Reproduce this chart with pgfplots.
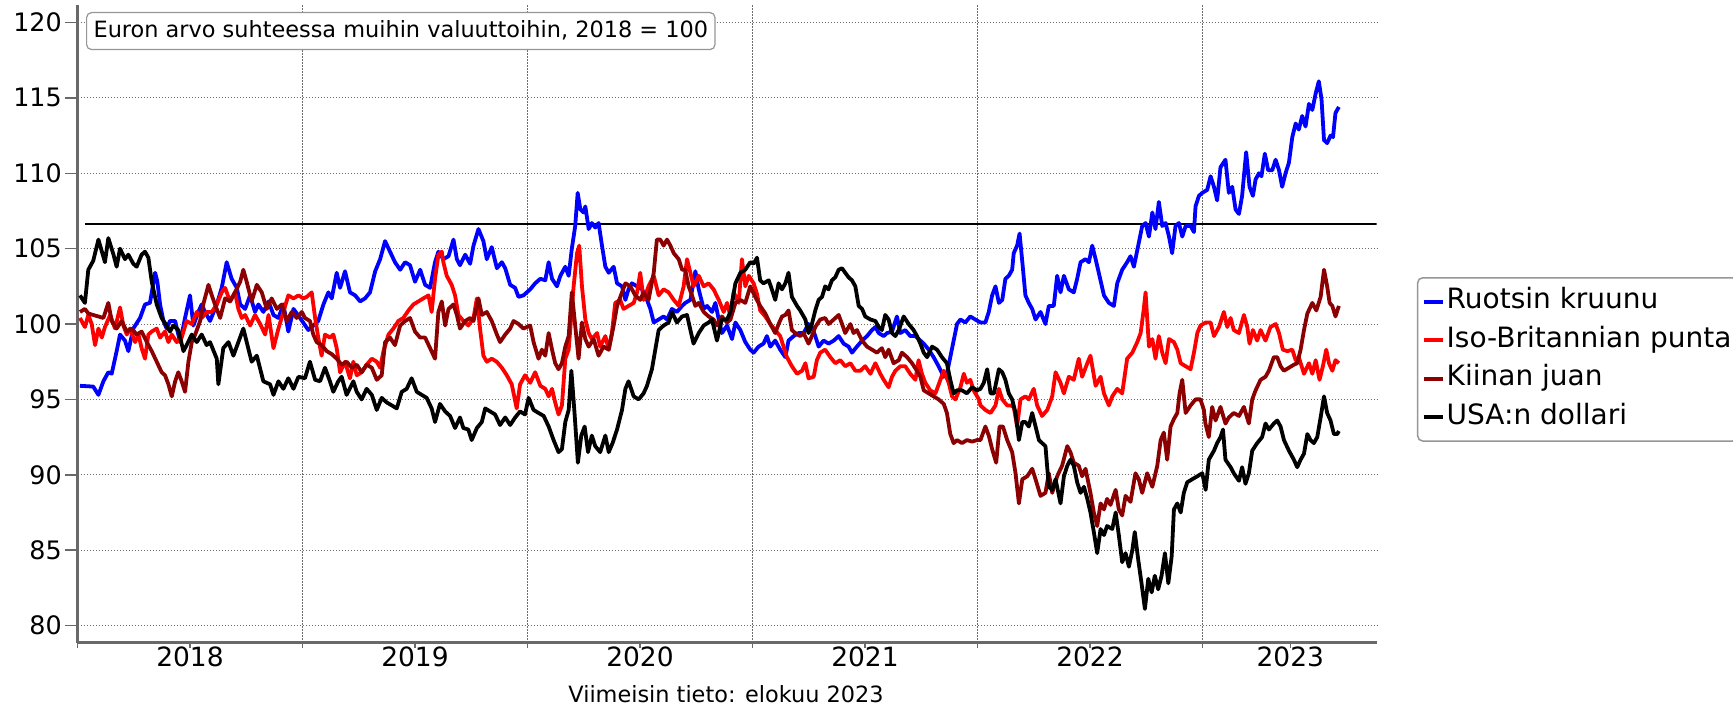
\documentclass[border=0pt]{standalone}
\usepackage{fontspec}
\setmainfont{DejaVu Sans}
\usepackage{pgfplots}
\pgfplotsset{compat=1.18}

\definecolor{kblue}{RGB}{0,0,255}
\definecolor{kred}{RGB}{255,0,0}
\definecolor{kdred}{RGB}{139,0,0}
\definecolor{axgray}{RGB}{105,105,105}
\definecolor{gridgray}{RGB}{110,110,110}
\definecolor{boxgray}{RGB}{150,150,150}

\begin{document}
\begin{tikzpicture}
\useasboundingbox (0pt,0pt) rectangle (1733pt,706pt);
\begin{axis}[
    at={(77.5pt,63pt)}, anchor=south west,
    scale only axis,
    width=1299.2pt, height=637.5pt,
    xmin=2018, xmax=2023.774,
    ymin=78.84, ymax=121.13,
    axis lines*=left,
    axis line style={-, draw=axgray, line width=3pt},
    tick align=outside,
    major tick length=13pt,
    tick style={draw=axgray, line width=1.5pt},
    xtick={2018,2019,2020,2021,2022,2023},
    xticklabels={,,,,,},
    xtick style={/pgfplots/major tick length=5pt},
    extra x ticks={2018.5,2019.5,2020.5,2021.5,2022.5,2023.39},
    extra x tick labels={2018,2019,2020,2021,2022,2023},
    extra x tick style={grid=none, major tick length=0pt},
    ytick={80,85,...,120},
    grid=major,
    major grid style={draw=gridgray, line width=1pt, dash pattern=on 1.5pt off 1.5pt},
    /pgf/number format/assume math mode=true,
    yticklabel style={font=\fontsize{25.4}{25.4}\selectfont, inner xsep=2.5pt},
    xticklabel style={font=\fontsize{26.5}{26.5}\selectfont},
    legend style={at={(1.031,0.574)}, anchor=north west,
        draw=boxgray, line width=1.5pt, rounded corners=5pt,
        font=\fontsize{28}{33}\selectfont,
        inner xsep=4pt, inner ysep=8.7pt, row sep=8.6pt,
        nodes={inner sep=2pt, text height=20pt, text depth=6pt}},
    legend cell align=left,
    legend image code/.code={\draw[#1, line width=4pt] (0pt,0pt) -- (19pt,0pt);},
]

\addplot[black, line width=2.5pt, forget plot] coordinates {(2018.033,106.63) (2023.774,106.63)};

% Ruotsin kruunu
\addplot[kblue, line width=3.8pt, line join=round] coordinates {
(2018.011,95.9) (2018.070,95.85) (2018.093,95.3) (2018.115,96.2) (2018.137,96.8) (2018.152,96.7)
(2018.174,98.2) (2018.189,99.3) (2018.211,98.9) (2018.226,98.2) (2018.248,99.7) (2018.278,100.4)
(2018.300,101.3) (2018.322,101.4) (2018.345,103.4) (2018.355,102.8) (2018.367,101.3) (2018.382,100.2)
(2018.396,99.7) (2018.411,100.2) (2018.434,100.2) (2018.456,98.8) (2018.478,100.4) (2018.500,101.9)
(2018.515,99.9) (2018.537,100.8) (2018.552,101.3) (2018.567,100.8) (2018.589,100.2) (2018.619,101.3)
(2018.641,102.4) (2018.663,104.1) (2018.685,103.0) (2018.708,102.4) (2018.723,101.3) (2018.745,101.0)
(2018.767,101.9) (2018.789,100.8) (2018.804,101.3) (2018.826,100.8) (2018.849,101.5) (2018.871,100.6)
(2018.893,100.4) (2018.915,101.3) (2018.937,99.5) (2018.960,101.0) (2018.989,100.4)
(2019.026,99.6) (2019.048,99.9) (2019.070,100.2) (2019.093,101.3) (2019.115,102.1) (2019.130,101.7)
(2019.152,103.4) (2019.167,102.4) (2019.189,103.5) (2019.211,102.1) (2019.234,101.9) (2019.256,101.5)
(2019.278,101.7) (2019.300,102.1) (2019.323,103.5) (2019.345,104.3) (2019.367,105.5) (2019.389,104.8)
(2019.411,104.1) (2019.434,103.6) (2019.456,104.1) (2019.478,103.9) (2019.500,102.8) (2019.523,103.6)
(2019.545,102.6) (2019.567,102.4) (2019.589,104.1) (2019.604,104.8) (2019.626,104.3) (2019.649,104.5)
(2019.671,105.6) (2019.686,104.3) (2019.700,103.9) (2019.723,104.6) (2019.745,104.0) (2019.760,105.2)
(2019.782,106.3) (2019.804,105.5) (2019.819,104.3) (2019.841,105.1) (2019.864,103.7) (2019.886,104.1)
(2019.901,103.7) (2019.923,102.6) (2019.945,102.4) (2019.960,101.8) (2019.982,101.9)
(2020.012,102.3) (2020.034,102.7) (2020.057,103.0) (2020.079,102.9) (2020.094,104.1) (2020.109,103.0)
(2020.131,102.5) (2020.146,103.2) (2020.168,103.8) (2020.183,103.2) (2020.197,105.0) (2020.212,106.5)
(2020.223,108.7) (2020.235,107.6) (2020.249,107.4) (2020.257,107.8) (2020.272,106.3) (2020.286,106.7)
(2020.301,106.4) (2020.316,106.7) (2020.331,105.2) (2020.346,103.8) (2020.361,103.4) (2020.383,103.8)
(2020.398,102.7) (2020.420,102.5) (2020.435,101.6) (2020.449,102.3) (2020.464,102.7) (2020.487,102.5)
(2020.509,102.3) (2020.531,101.6) (2020.546,101.0) (2020.561,100.1) (2020.583,100.3) (2020.605,100.5)
(2020.620,100.3) (2020.642,101.0) (2020.664,100.8) (2020.687,101.2) (2020.701,101.4) (2020.724,101.6)
(2020.746,103.5) (2020.761,102.3) (2020.783,101.0) (2020.798,101.2) (2020.820,100.8) (2020.835,101.4)
(2020.850,100.3) (2020.864,99.4) (2020.887,99.9) (2020.909,99.0) (2020.924,100.1) (2020.946,99.6)
(2020.968,98.8) (2020.990,98.3)
(2021.005,98.1) (2021.027,98.5) (2021.049,98.7) (2021.064,99.2) (2021.079,98.5) (2021.101,98.9)
(2021.123,98.3) (2021.146,97.8) (2021.160,98.9) (2021.183,99.2) (2021.205,99.4) (2021.227,99.4)
(2021.249,100.0) (2021.264,99.8) (2021.279,99.2) (2021.294,98.5) (2021.316,98.9) (2021.338,98.7)
(2021.361,98.9) (2021.383,99.2) (2021.405,98.7) (2021.427,98.5) (2021.442,98.1) (2021.464,98.5)
(2021.487,98.9) (2021.509,99.2) (2021.531,99.6) (2021.546,99.8) (2021.561,99.4) (2021.583,99.2)
(2021.598,99.4) (2021.620,99.5) (2021.642,100.5) (2021.657,99.4) (2021.679,99.6) (2021.701,99.2)
(2021.724,99.2) (2021.746,98.9) (2021.761,98.7) (2021.783,98.3) (2021.805,97.8) (2021.827,97.2)
(2021.850,96.5) (2021.864,96.7) (2021.879,97.8) (2021.894,98.9) (2021.909,100.0) (2021.924,100.3)
(2021.946,100.1) (2021.968,100.5) (2021.990,100.3)
(2022.013,100.1) (2022.035,100.1) (2022.050,100.8) (2022.065,101.9) (2022.080,102.5) (2022.095,101.4)
(2022.110,101.6) (2022.124,103.0) (2022.139,103.2) (2022.154,103.6) (2022.161,104.7) (2022.176,105.2)
(2022.187,106.0) (2022.198,104.3) (2022.213,101.9) (2022.228,101.4) (2022.243,101.0) (2022.258,100.3)
(2022.280,100.8) (2022.302,100.0) (2022.317,101.2) (2022.339,101.2) (2022.354,103.2) (2022.369,102.1)
(2022.384,103.2) (2022.406,102.3) (2022.428,102.1) (2022.443,103.0) (2022.458,104.1) (2022.480,104.3)
(2022.495,104.1) (2022.510,105.2) (2022.525,104.3) (2022.539,103.4) (2022.562,101.9) (2022.584,101.4)
(2022.606,101.2) (2022.621,102.7) (2022.643,103.6) (2022.665,104.1) (2022.680,104.5) (2022.695,103.8)
(2022.717,105.4) (2022.732,106.5) (2022.747,106.7) (2022.762,105.8) (2022.777,107.4) (2022.791,106.3)
(2022.806,108.1) (2022.821,106.5) (2022.836,106.7) (2022.851,105.8) (2022.865,104.7) (2022.880,106.5)
(2022.895,106.7) (2022.910,105.8) (2022.925,106.5) (2022.947,106.5) (2022.962,106.1) (2022.969,107.8)
(2022.984,108.5) (2022.999,108.7)
(2023.021,108.9) (2023.036,109.8) (2023.051,109.1) (2023.065,108.2) (2023.080,110.4) (2023.102,110.9)
(2023.117,108.7) (2023.132,109.1) (2023.147,107.6) (2023.162,107.3) (2023.176,108.5) (2023.194,111.4)
(2023.209,109.1) (2023.224,108.5) (2023.236,109.6) (2023.251,110.0) (2023.262,109.8) (2023.277,111.3)
(2023.292,110.2) (2023.310,110.2) (2023.325,110.9) (2023.340,110.2) (2023.354,109.1) (2023.369,110.0)
(2023.384,110.7) (2023.399,112.4) (2023.414,113.3) (2023.428,112.9) (2023.443,113.8) (2023.458,113.1)
(2023.473,114.6) (2023.488,114.2) (2023.503,115.3) (2023.517,116.1) (2023.529,114.9) (2023.540,112.2)
(2023.554,112.0) (2023.569,112.5) (2023.580,112.4) (2023.591,114.0) (2023.606,114.4)
};
\addlegendentry{Ruotsin kruunu}

% Iso-Britannian punta
\addplot[kred, line width=3.8pt, line join=round] coordinates {
(2018.011,100.4) (2018.033,99.8) (2018.048,100.6) (2018.063,100.0) (2018.078,98.6) (2018.093,99.7)
(2018.108,99.1) (2018.122,99.8) (2018.145,100.6) (2018.167,99.7) (2018.189,101.1) (2018.204,99.9)
(2018.219,99.3) (2018.233,99.7) (2018.256,98.8) (2018.271,99.3) (2018.285,98.4) (2018.300,97.7)
(2018.315,99.3) (2018.330,99.5) (2018.352,99.7) (2018.367,99.1) (2018.389,99.5) (2018.404,98.8)
(2018.419,99.3) (2018.441,98.8) (2018.463,99.1) (2018.485,100.2) (2018.508,100.0) (2018.530,100.8)
(2018.552,100.4) (2018.574,100.8) (2018.597,100.8) (2018.619,101.3) (2018.641,102.1) (2018.656,102.4)
(2018.678,101.5) (2018.700,102.1) (2018.715,101.0) (2018.730,100.4) (2018.745,100.6) (2018.767,99.9)
(2018.789,100.6) (2018.812,100.0) (2018.834,99.3) (2018.849,100.6) (2018.871,98.4) (2018.893,99.7)
(2018.915,100.8) (2018.937,101.9) (2018.960,101.7) (2018.982,101.9) (2019.004,101.7)
(2019.019,101.8) (2019.041,102.1) (2019.056,100.4) (2019.070,99.1) (2019.085,97.9) (2019.100,99.3)
(2019.122,99.1) (2019.137,99.3) (2019.152,98.4) (2019.167,96.8) (2019.189,97.5) (2019.211,96.4)
(2019.226,97.5) (2019.241,96.6) (2019.263,96.8) (2019.285,97.3) (2019.308,97.7) (2019.330,97.5)
(2019.345,97.1) (2019.360,98.2) (2019.382,99.3) (2019.404,99.7) (2019.426,100.2) (2019.448,100.4)
(2019.471,100.9) (2019.493,101.3) (2019.515,101.5) (2019.537,101.7) (2019.560,101.9) (2019.574,100.8)
(2019.589,103.0) (2019.604,104.6) (2019.619,104.8) (2019.626,104.1) (2019.641,103.2) (2019.663,102.6)
(2019.678,101.9) (2019.693,100.6) (2019.715,100.2) (2019.737,99.9) (2019.760,100.4) (2019.775,101.7)
(2019.789,99.7) (2019.804,97.9) (2019.819,97.5) (2019.841,97.7) (2019.863,97.5) (2019.886,97.1)
(2019.908,96.6) (2019.930,96.0) (2019.952,94.4) (2019.967,96.0) (2019.989,96.6)
(2020.012,96.1) (2020.034,96.8) (2020.057,95.9) (2020.079,95.7) (2020.094,95.2) (2020.109,95.7)
(2020.123,94.8) (2020.138,94.0) (2020.153,94.6) (2020.168,97.7) (2020.183,98.3) (2020.205,102.5)
(2020.220,104.7) (2020.230,105.2) (2020.242,102.5) (2020.257,100.3) (2020.272,99.4) (2020.286,99.0)
(2020.309,99.4) (2020.323,98.5) (2020.346,99.2) (2020.361,98.3) (2020.375,99.4) (2020.390,101.4)
(2020.412,101.6) (2020.427,101.0) (2020.449,101.2) (2020.472,101.4) (2020.487,102.1) (2020.501,103.4)
(2020.516,101.6) (2020.538,102.5) (2020.561,103.2) (2020.583,101.9) (2020.605,102.3) (2020.627,102.1)
(2020.650,101.6) (2020.672,101.2) (2020.694,102.5) (2020.709,104.3) (2020.724,103.4) (2020.738,102.5)
(2020.761,103.2) (2020.783,102.5) (2020.805,102.7) (2020.827,102.3) (2020.850,101.6) (2020.872,100.8)
(2020.887,101.4) (2020.902,100.5) (2020.916,102.1) (2020.939,101.4) (2020.953,104.3) (2020.968,102.5)
(2020.983,103.2)
(2021.005,102.7) (2021.020,102.0) (2021.034,100.9) (2021.057,100.5) (2021.079,100.0) (2021.101,99.6)
(2021.123,99.2) (2021.138,98.5) (2021.153,97.8) (2021.175,97.2) (2021.198,96.7) (2021.220,96.9)
(2021.235,97.4) (2021.249,96.4) (2021.272,96.5) (2021.286,97.6) (2021.301,98.1) (2021.323,98.3)
(2021.346,97.8) (2021.368,97.4) (2021.390,97.6) (2021.412,97.2) (2021.435,97.4) (2021.457,96.9)
(2021.479,96.9) (2021.501,97.2) (2021.524,96.7) (2021.546,97.4) (2021.568,96.7) (2021.583,96.3)
(2021.605,95.8) (2021.620,96.5) (2021.635,96.9) (2021.657,97.2) (2021.679,97.2) (2021.701,96.7)
(2021.724,96.3) (2021.738,97.6) (2021.753,96.7) (2021.768,96.1) (2021.790,95.6) (2021.813,95.4)
(2021.835,96.3) (2021.850,96.9) (2021.872,96.1) (2021.887,95.2) (2021.902,95.0) (2021.924,95.8)
(2021.939,96.7) (2021.953,96.1) (2021.968,96.3) (2021.983,95.6)
(2022.006,95.0) (2022.013,94.6) (2022.035,94.3) (2022.058,94.1) (2022.080,94.6) (2022.095,95.7)
(2022.110,95.0) (2022.132,94.6) (2022.147,94.6) (2022.161,94.5) (2022.176,93.2) (2022.191,95.0)
(2022.213,95.2) (2022.228,95.0) (2022.250,95.7) (2022.265,94.6) (2022.287,93.9) (2022.310,94.3)
(2022.332,95.2) (2022.347,96.8) (2022.369,96.1) (2022.384,95.4) (2022.406,96.5) (2022.428,96.3)
(2022.450,97.7) (2022.465,96.5) (2022.488,97.4) (2022.502,97.9) (2022.525,95.9) (2022.547,96.5)
(2022.562,95.4) (2022.584,94.6) (2022.599,95.2) (2022.621,95.7) (2022.643,95.4) (2022.665,97.7)
(2022.688,98.1) (2022.710,98.8) (2022.725,99.4) (2022.739,101.0) (2022.747,102.1) (2022.762,98.5)
(2022.777,99.0) (2022.791,97.7) (2022.806,99.2) (2022.821,98.1) (2022.836,97.4) (2022.851,99.0)
(2022.873,98.8) (2022.888,98.3) (2022.903,97.4) (2022.925,97.2) (2022.947,97.0) (2022.962,98.1)
(2022.977,99.4) (2022.991,99.9) (2023.014,100.1)
(2023.036,100.1) (2023.051,99.2) (2023.073,99.8) (2023.095,100.8) (2023.110,99.8) (2023.125,100.4)
(2023.139,99.6) (2023.162,99.4) (2023.184,100.6) (2023.199,99.8) (2023.209,98.7) (2023.224,99.6)
(2023.243,98.9) (2023.258,99.6) (2023.280,98.9) (2023.302,99.8) (2023.325,100.0) (2023.340,99.4)
(2023.357,98.3) (2023.377,98.2) (2023.399,98.3) (2023.414,97.6) (2023.428,97.8) (2023.451,96.7)
(2023.473,97.4) (2023.488,96.7) (2023.503,97.6) (2023.520,96.3) (2023.535,97.2) (2023.550,98.3)
(2023.562,97.4) (2023.577,96.9) (2023.591,97.6) (2023.606,97.4)
};
\addlegendentry{Iso-Britannian punta}

% Kiinan juan
\addplot[kdred, line width=3.8pt, line join=round] coordinates {
(2018.011,100.8) (2018.033,101.0) (2018.048,100.7) (2018.070,100.6) (2018.093,100.5) (2018.115,100.4)
(2018.137,101.4) (2018.152,100.2) (2018.174,99.7) (2018.196,100.2) (2018.219,99.5) (2018.241,99.7)
(2018.263,99.3) (2018.285,99.5) (2018.308,98.8) (2018.330,98.2) (2018.352,97.5) (2018.374,96.8)
(2018.389,96.6) (2018.404,96.0) (2018.419,95.2) (2018.434,96.2) (2018.448,96.8) (2018.463,96.2)
(2018.478,95.5) (2018.493,97.5) (2018.508,98.8) (2018.523,99.3) (2018.545,100.2) (2018.559,101.3)
(2018.582,102.6) (2018.597,101.9) (2018.611,101.3) (2018.634,100.4) (2018.656,101.7) (2018.678,101.5)
(2018.700,102.1) (2018.723,102.8) (2018.737,103.6) (2018.752,102.8) (2018.774,101.5) (2018.797,102.6)
(2018.819,102.1) (2018.841,101.0) (2018.863,101.7) (2018.886,101.0) (2018.908,101.3) (2018.930,100.2)
(2018.952,100.8) (2018.974,100.4) (2018.997,100.8)
(2019.011,100.4) (2019.033,100.2) (2019.048,99.3) (2019.063,98.8) (2019.085,98.6) (2019.108,98.2)
(2019.130,98.0) (2019.152,97.7) (2019.174,97.3) (2019.196,97.5) (2019.219,97.1) (2019.241,97.3)
(2019.263,96.8) (2019.285,97.3) (2019.308,97.1) (2019.330,96.3) (2019.352,96.6) (2019.367,98.8)
(2019.389,99.1) (2019.411,98.6) (2019.434,99.9) (2019.456,100.2) (2019.478,100.4) (2019.500,99.5)
(2019.523,99.1) (2019.545,99.1) (2019.567,98.4) (2019.589,97.7) (2019.604,100.8) (2019.619,101.5)
(2019.634,99.9) (2019.649,101.0) (2019.671,101.3) (2019.686,100.6) (2019.700,99.7) (2019.723,100.2)
(2019.745,100.4) (2019.760,100.2) (2019.782,101.7) (2019.797,100.6) (2019.819,100.8) (2019.841,100.2)
(2019.864,99.3) (2019.878,98.8) (2019.901,99.3) (2019.923,99.7) (2019.938,100.2) (2019.960,100.0)
(2019.982,99.7)
(2020.012,99.9) (2020.027,98.8) (2020.049,97.7) (2020.064,98.3) (2020.079,97.9) (2020.094,99.4)
(2020.109,98.3) (2020.123,97.4) (2020.138,97.0) (2020.153,97.4) (2020.168,98.5) (2020.183,99.2)
(2020.197,102.1) (2020.212,99.9) (2020.227,97.7) (2020.242,100.1) (2020.257,99.0) (2020.272,98.5)
(2020.294,99.0) (2020.316,97.9) (2020.338,98.5) (2020.361,98.3) (2020.383,99.9) (2020.398,101.2)
(2020.420,102.1) (2020.435,102.7) (2020.457,102.5) (2020.479,101.9) (2020.501,101.6) (2020.516,102.1)
(2020.538,101.6) (2020.561,103.4) (2020.575,105.6) (2020.590,105.6) (2020.605,105.2) (2020.620,105.6)
(2020.635,105.2) (2020.650,104.7) (2020.672,104.3) (2020.687,103.6) (2020.701,103.6) (2020.716,102.5)
(2020.731,101.9) (2020.746,101.2) (2020.761,101.4) (2020.783,100.8) (2020.805,100.5) (2020.827,100.3)
(2020.842,99.9) (2020.864,100.5) (2020.887,100.1) (2020.902,100.3) (2020.924,101.4) (2020.946,101.6)
(2020.968,101.4) (2020.990,102.5)
(2021.012,101.8) (2021.034,101.2) (2021.057,100.7) (2021.079,100.0) (2021.101,99.4) (2021.116,100.0)
(2021.131,100.5) (2021.146,100.6) (2021.160,100.9) (2021.175,99.6) (2021.190,99.4) (2021.212,99.2)
(2021.227,99.4) (2021.249,98.7) (2021.264,99.2) (2021.279,99.8) (2021.301,100.3) (2021.323,100.4)
(2021.338,100.0) (2021.361,100.3) (2021.383,100.6) (2021.398,100.0) (2021.412,99.4) (2021.435,100.0)
(2021.449,99.4) (2021.464,99.6) (2021.487,98.9) (2021.509,98.5) (2021.531,98.3) (2021.553,98.1)
(2021.575,98.4) (2021.590,97.8) (2021.605,98.3) (2021.627,97.4) (2021.650,97.6) (2021.664,98.1)
(2021.687,97.8) (2021.709,97.4) (2021.731,96.9) (2021.746,96.5) (2021.761,95.6) (2021.783,95.4)
(2021.805,95.2) (2021.827,95.0) (2021.850,94.7) (2021.864,94.1) (2021.879,92.7) (2021.894,92.1)
(2021.909,92.3) (2021.931,92.1) (2021.953,92.3) (2021.976,92.2) (2021.998,92.3)
(2022.013,92.3) (2022.035,93.2) (2022.050,92.6) (2022.065,91.7) (2022.083,90.8) (2022.098,93.2)
(2022.113,93.2) (2022.132,92.3) (2022.154,91.5) (2022.169,90.1) (2022.184,88.1) (2022.199,89.7)
(2022.221,89.9) (2022.243,90.4) (2022.258,89.7) (2022.280,88.6) (2022.302,88.8) (2022.317,90.1)
(2022.332,88.8) (2022.354,89.9) (2022.376,90.6) (2022.399,91.9) (2022.413,91.5) (2022.428,90.8)
(2022.450,90.6) (2022.465,89.9) (2022.480,90.4) (2022.502,88.8) (2022.517,87.5) (2022.532,86.6)
(2022.547,88.1) (2022.562,87.7) (2022.576,88.4) (2022.591,88.0) (2022.614,89.0) (2022.628,87.7)
(2022.643,87.3) (2022.658,88.6) (2022.680,88.2) (2022.702,90.1) (2022.717,89.7) (2022.732,88.8)
(2022.754,90.1) (2022.777,89.2) (2022.799,90.6) (2022.814,92.3) (2022.828,92.8) (2022.843,91.0)
(2022.858,93.2) (2022.873,93.7) (2022.888,94.1) (2022.898,95.4) (2022.910,96.3) (2022.925,94.1)
(2022.947,94.6) (2022.969,95.0) (2022.991,95.0) (2023.006,94.3)
(2023.013,93.4) (2023.028,92.5) (2023.043,94.5) (2023.058,93.6) (2023.080,94.5) (2023.102,93.4)
(2023.117,93.8) (2023.139,94.1) (2023.162,93.9) (2023.184,94.5) (2023.206,93.4) (2023.221,95.0)
(2023.236,95.6) (2023.258,96.3) (2023.280,96.5) (2023.295,96.9) (2023.317,97.8) (2023.332,97.8)
(2023.347,97.2) (2023.362,96.9) (2023.384,97.1) (2023.406,97.3) (2023.421,97.4) (2023.436,98.3)
(2023.451,99.6) (2023.466,100.7) (2023.488,101.4) (2023.506,100.9) (2023.525,101.8) (2023.540,103.6)
(2023.554,102.5) (2023.565,101.4) (2023.577,101.2) (2023.591,100.5) (2023.606,101.2)
};
\addlegendentry{Kiinan juan}

% USA:n dollari
\addplot[black, line width=3.8pt, line join=round] coordinates {
(2018.011,101.9) (2018.033,101.4) (2018.048,103.6) (2018.070,104.2) (2018.093,105.6) (2018.122,104.1)
(2018.137,105.7) (2018.160,104.6) (2018.174,103.8) (2018.189,105.0) (2018.211,104.3) (2018.226,104.6)
(2018.248,104.0) (2018.263,103.8) (2018.285,104.6) (2018.300,104.8) (2018.315,104.4) (2018.330,102.8)
(2018.352,101.3) (2018.374,100.4) (2018.396,99.9) (2018.411,99.5) (2018.426,99.9) (2018.448,99.6)
(2018.471,98.2) (2018.485,98.6) (2018.508,99.3) (2018.530,98.8) (2018.552,99.3) (2018.574,98.6)
(2018.589,98.8) (2018.619,97.7) (2018.626,96.0) (2018.648,98.4) (2018.671,98.8) (2018.693,97.9)
(2018.715,98.8) (2018.737,99.7) (2018.752,98.8) (2018.774,97.5) (2018.797,97.9) (2018.826,96.2)
(2018.856,96.0) (2018.871,95.3) (2018.893,96.2) (2018.915,95.7) (2018.937,96.4) (2018.960,95.7)
(2018.982,96.5)
(2019.011,96.4) (2019.033,97.5) (2019.056,96.3) (2019.078,96.2) (2019.100,97.1) (2019.122,96.2)
(2019.137,95.5) (2019.159,96.2) (2019.174,96.5) (2019.196,95.3) (2019.226,96.2) (2019.241,95.5)
(2019.263,95.0) (2019.285,95.7) (2019.308,95.3) (2019.330,94.3) (2019.352,95.1) (2019.374,94.8)
(2019.397,94.6) (2019.419,94.4) (2019.441,95.5) (2019.463,95.7) (2019.485,96.4) (2019.508,95.5)
(2019.530,95.3) (2019.552,95.1) (2019.574,94.4) (2019.589,93.5) (2019.611,94.7) (2019.634,94.2)
(2019.656,93.9) (2019.678,93.1) (2019.700,93.8) (2019.715,93.1) (2019.737,93.0) (2019.752,92.3)
(2019.775,93.1) (2019.797,93.5) (2019.812,94.4) (2019.834,94.2) (2019.856,94.0) (2019.878,93.3)
(2019.901,93.8) (2019.923,93.3) (2019.945,93.8) (2019.967,94.2) (2019.989,94.0)
(2020.005,95.1) (2020.027,94.3) (2020.049,94.1) (2020.072,93.9) (2020.094,93.2) (2020.116,92.3)
(2020.138,91.5) (2020.153,91.7) (2020.168,93.5) (2020.183,94.3) (2020.195,96.9) (2020.209,94.1)
(2020.224,90.8) (2020.239,92.6) (2020.254,93.2) (2020.269,91.5) (2020.286,92.6) (2020.301,91.9)
(2020.323,91.5) (2020.346,92.6) (2020.361,91.5) (2020.378,92.1) (2020.398,93.0) (2020.420,94.3)
(2020.435,95.7) (2020.449,96.2) (2020.472,95.2) (2020.494,95.0) (2020.516,95.4) (2020.531,95.9)
(2020.553,97.0) (2020.568,98.3) (2020.583,99.6) (2020.605,99.9) (2020.627,100.1) (2020.642,100.8)
(2020.664,100.1) (2020.687,100.5) (2020.709,100.6) (2020.724,99.6) (2020.738,98.7) (2020.761,99.4)
(2020.783,99.9) (2020.805,100.1) (2020.820,100.3) (2020.842,98.9) (2020.864,100.3) (2020.887,100.3)
(2020.902,100.8) (2020.924,102.7) (2020.946,103.4) (2020.968,103.6) (2020.990,104.1)
(2021.005,104.0) (2021.020,104.4) (2021.034,102.9) (2021.049,102.7) (2021.072,102.9) (2021.086,102.3)
(2021.101,101.6) (2021.116,102.7) (2021.131,102.3) (2021.146,102.7) (2021.160,103.4) (2021.175,101.8)
(2021.198,101.2) (2021.212,100.9) (2021.235,100.3) (2021.249,99.4) (2021.264,100.0) (2021.279,100.9)
(2021.294,101.6) (2021.309,101.8) (2021.323,102.5) (2021.338,102.3) (2021.353,102.9) (2021.368,103.1)
(2021.383,103.6) (2021.398,103.7) (2021.412,103.4) (2021.427,103.1) (2021.442,102.9) (2021.457,102.5)
(2021.472,101.2) (2021.487,101.0) (2021.501,100.5) (2021.524,100.3) (2021.546,100.2) (2021.561,99.8)
(2021.575,99.6) (2021.590,100.6) (2021.605,100.3) (2021.620,99.4) (2021.635,99.2) (2021.650,99.6)
(2021.672,100.5) (2021.694,100.0) (2021.716,99.6) (2021.731,99.2) (2021.746,98.7) (2021.761,98.1)
(2021.776,97.8) (2021.798,98.5) (2021.820,98.3) (2021.842,97.8) (2021.864,97.4) (2021.879,96.3)
(2021.894,95.4) (2021.909,95.6) (2021.931,95.6) (2021.953,95.4) (2021.976,95.8) (2021.998,95.6)
(2022.013,95.7) (2022.028,96.1) (2022.043,97.0) (2022.058,95.4) (2022.073,95.4) (2022.095,97.0)
(2022.110,96.8) (2022.124,96.3) (2022.139,95.4) (2022.154,95.0) (2022.169,94.1) (2022.184,92.3)
(2022.199,93.5) (2022.213,93.5) (2022.228,93.2) (2022.243,94.1) (2022.258,93.2) (2022.273,92.3)
(2022.287,92.1) (2022.302,91.9) (2022.317,89.2) (2022.332,89.0) (2022.347,89.7) (2022.369,88.1)
(2022.384,89.9) (2022.399,90.6) (2022.413,91.0) (2022.428,90.6) (2022.443,89.5) (2022.458,88.8)
(2022.473,89.2) (2022.488,88.4) (2022.502,87.5) (2022.517,86.2) (2022.532,84.8) (2022.547,86.4)
(2022.562,86.0) (2022.576,86.6) (2022.599,86.4) (2022.614,87.5) (2022.628,86.0) (2022.643,84.2)
(2022.658,84.8) (2022.673,83.9) (2022.688,85.0) (2022.699,86.2) (2022.714,84.4) (2022.729,82.8)
(2022.744,81.1) (2022.759,83.1) (2022.774,82.2) (2022.788,83.3) (2022.803,82.4) (2022.818,83.3)
(2022.833,84.8) (2022.848,82.8) (2022.863,84.6) (2022.873,87.7) (2022.888,88.1) (2022.903,87.5)
(2022.917,88.8) (2022.932,89.5) (2022.954,89.7) (2022.977,89.9) (2022.999,90.1) (2023.014,89.0)
(2023.028,91.0) (2023.051,91.6) (2023.065,92.1) (2023.080,92.5) (2023.091,93.0) (2023.102,91.0)
(2023.125,90.5) (2023.139,90.1) (2023.162,89.6) (2023.176,90.5) (2023.191,89.4) (2023.206,90.1)
(2023.221,91.6) (2023.243,92.1) (2023.265,92.5) (2023.280,93.4) (2023.295,93.0) (2023.317,93.4)
(2023.332,93.6) (2023.347,93.2) (2023.362,92.3) (2023.384,91.6) (2023.406,91.0) (2023.421,90.5)
(2023.436,91.0) (2023.451,91.4) (2023.466,92.7) (2023.480,92.3) (2023.495,92.1) (2023.510,92.5)
(2023.525,93.8) (2023.540,95.2) (2023.554,94.1) (2023.569,93.6) (2023.584,92.7) (2023.599,92.7)
(2023.606,92.9)
};
\addlegendentry{USA:n dollari}
\end{axis}

\node[draw=boxgray, line width=1.2pt, rounded corners=5pt, fill=white,
      anchor=north west, inner xsep=7pt, inner ysep=8pt,
      text height=16.5pt, text depth=4.5pt,
      font=\fontsize{22.4}{26}\selectfont]
  at (86pt,694pt) {Euron arvo suhteessa muihin valuuttoihin, 2018 = 100};
\node[font=\fontsize{22.4}{26}\selectfont] at (726pt,12pt) {Viimeisin tieto: elokuu 2023};
\end{tikzpicture}
\end{document}
